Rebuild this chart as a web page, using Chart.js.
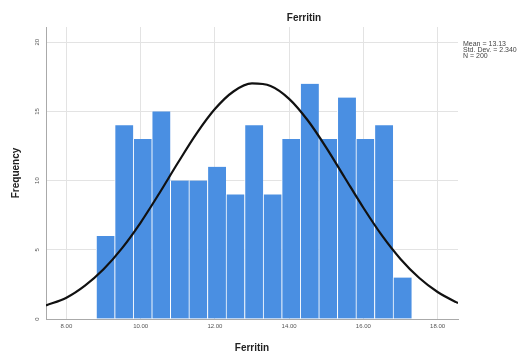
<!DOCTYPE html>
<html lang="en">
<head>
    <meta charset="UTF-8">
    <title>Ferritin</title>
    <script src="https://cdn.jsdelivr.net/npm/chart.js"></script>
    <style>
        body {
            margin: 0;
            background: #fff;
        }
        .wrap {
            width: 528px;
            height: 352px;
            position: relative;
        }
    </style>
</head>
<body>
    <div class="wrap"><canvas id="myChart"></canvas></div>
    <script>
        // histogram bins (centres, width 0.5) and counts
        const binCenters = [9.05, 9.55, 10.05, 10.55, 11.05, 11.55, 12.05, 12.55, 13.05,
                            13.55, 14.05, 14.55, 15.05, 15.55, 16.05, 16.55, 17.05];
        const counts = [6, 14, 13, 15, 10, 10, 11, 9, 14, 9, 13, 17, 13, 16, 13, 14, 3];

        // normal curve
        const curveX = [7.45, 8, 8.5, 9, 9.5, 10, 10.5, 11, 11.5, 12, 12.5, 13, 13.5,
                        14, 14.5, 15, 15.5, 16, 16.5, 17, 17.5, 18, 18.5, 18.55];
        const curveY = [0.98, 1.54, 2.41, 3.59, 5.12, 6.97, 9.07, 11.27, 13.38, 15.17, 16.44, 17.02, 16.84,
                        15.91, 14.36, 12.39, 10.21, 8.04, 6.04, 4.34, 2.98, 1.95, 1.22, 1.16];

        const xTicks = [8, 10, 12, 14, 16, 18];
        const yTicks = [0, 5, 10, 15, 20];
        const statsLines = ['Mean = 13.13', 'Std. Dev. = 2.340', 'N = 200'];

        const FONT = "'Liberation Sans', Arial, sans-serif";

        const extras = {
            id: 'extras',
            afterDraw(chart) {
                const ctx = chart.ctx;
                const y = chart.scales.y;
                ctx.save();
                // rotated y tick labels
                ctx.fillStyle = '#555';
                ctx.font = '6px ' + FONT;
                ctx.textAlign = 'center';
                ctx.textBaseline = 'middle';
                yTicks.forEach(v => {
                    ctx.save();
                    ctx.translate(37, y.getPixelForValue(v));
                    ctx.rotate(-Math.PI / 2);
                    ctx.fillText(String(v), 0, 0);
                    ctx.restore();
                });
                // title
                ctx.fillStyle = '#222';
                ctx.font = 'bold 10px ' + FONT;
                ctx.fillText('Ferritin', 304, 18);
                // stats box
                ctx.fillStyle = '#444';
                ctx.font = '7px ' + FONT;
                ctx.textAlign = 'left';
                statsLines.forEach((t, i) => ctx.fillText(t, 463, 44 + i * 6));
                ctx.restore();
            }
        };

        new Chart(document.getElementById('myChart'), {
            type: 'bar',
            data: {
                datasets: [
                    {
                        type: 'line',
                        data: curveX.map((x, i) => ({ x: x, y: curveY[i] })),
                        borderColor: '#111',
                        borderWidth: 2.2,
                        pointRadius: 0,
                        cubicInterpolationMode: 'monotone',
                        fill: false,
                        order: 0
                    },
                    {
                        type: 'bar',
                        data: binCenters.map((x, i) => ({ x: x, y: counts[i] })),
                        backgroundColor: '#4a8fe2',
                        borderColor: '#ffffff',
                        borderWidth: { left: 1, right: 0, top: 0, bottom: 0 },
                        borderSkipped: false,
                        barPercentage: 1,
                        categoryPercentage: 1,
                        order: 1
                    }
                ]
            },
            options: {
                responsive: true,
                maintainAspectRatio: false,
                animation: false,
                layout: { padding: { top: 27, right: 70, left: 0, bottom: 0 } },
                plugins: {
                    legend: { display: false },
                    tooltip: { enabled: false }
                },
                scales: {
                    x: {
                        type: 'linear',
                        min: 7.45,
                        max: 18.55,
                        offset: false,
                        afterBuildTicks: axis => { axis.ticks = xTicks.map(v => ({ value: v })); },
                        afterFit: axis => { axis.height = 33; },
                        grid: { color: '#e3e3e3', lineWidth: 1, offset: false, drawTicks: false },
                        border: { color: '#aaa', width: 1 },
                        ticks: {
                            color: '#555',
                            font: { family: FONT, size: 6 },
                            padding: 4,
                            maxRotation: 0,
                            callback: v => Number(v).toFixed(2)
                        },
                        title: {
                            display: true,
                            text: 'Ferritin',
                            color: '#222',
                            font: { family: FONT, size: 10, weight: 'bold' },
                            padding: { top: 0, bottom: -2 }
                        }
                    },
                    y: {
                        min: 0,
                        max: 21.1,
                        afterBuildTicks: axis => { axis.ticks = yTicks.map(v => ({ value: v })); },
                        afterFit: axis => { axis.width = 46; },
                        grid: { color: '#e3e3e3', lineWidth: 1, drawTicks: false },
                        border: { color: '#aaa', width: 1 },
                        ticks: { display: false },
                        title: {
                            display: true,
                            text: 'Frequency',
                            color: '#222',
                            font: { family: FONT, size: 10, weight: 'bold' },
                            padding: { top: 10, bottom: 0 }
                        }
                    }
                }
            },
            plugins: [extras]
        });
    </script>
</body>
</html>
